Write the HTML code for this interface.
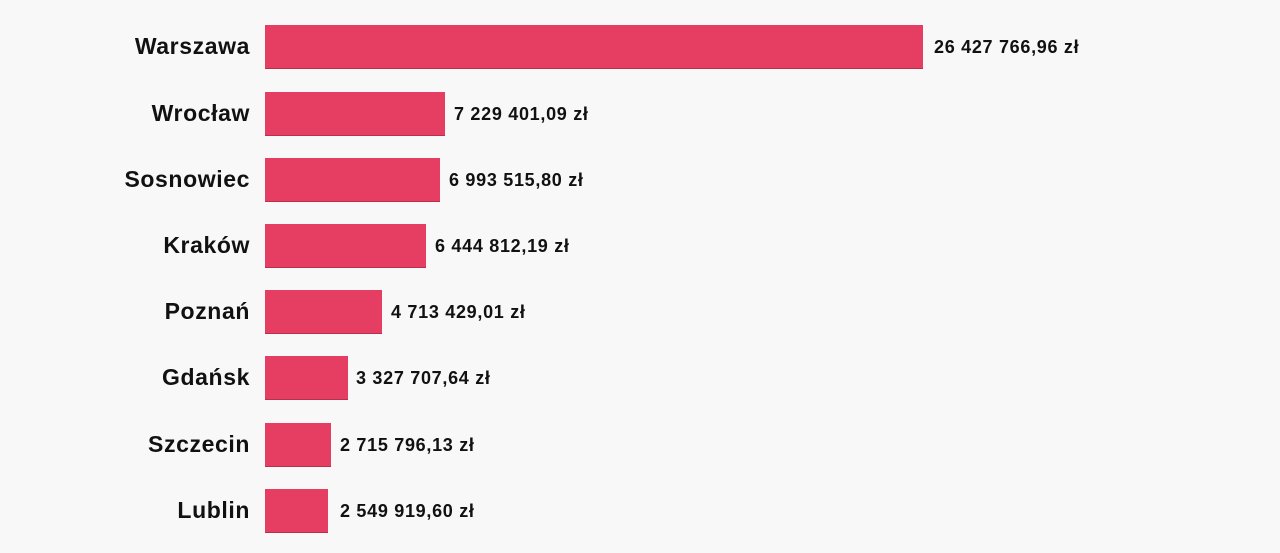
<!DOCTYPE html>
<html><head><meta charset="utf-8"><style>
html,body{margin:0;padding:0;width:1280px;height:553px;background:#f8f8f8;overflow:hidden;font-family:"Liberation Sans","DejaVu Sans",sans-serif;}
.r{position:absolute;left:0;height:43px;width:1280px}
.l{position:absolute;right:1030px;top:0;line-height:43px;font-size:23px;font-weight:bold;color:#111;white-space:nowrap;letter-spacing:0.6px}
.b{position:absolute;left:265px;top:0;height:43px;background:#e63e62;box-shadow:0 1px 0 #b8304e}
.v{position:absolute;top:0;line-height:45px;font-size:18px;font-weight:bold;color:#111;white-space:nowrap;letter-spacing:0.7px}
</style></head><body>
<div class="r" style="top:25px"><div class="l">Warszawa</div><div class="b" style="width:658px"></div><div class="v" style="left:934px">26 427 766,96 zł</div></div>
<div class="r" style="top:92px"><div class="l">Wrocław</div><div class="b" style="width:180px"></div><div class="v" style="left:454px">7 229 401,09 zł</div></div>
<div class="r" style="top:158px"><div class="l">Sosnowiec</div><div class="b" style="width:175px"></div><div class="v" style="left:449px">6 993 515,80 zł</div></div>
<div class="r" style="top:224px"><div class="l">Kraków</div><div class="b" style="width:161px"></div><div class="v" style="left:435px">6 444 812,19 zł</div></div>
<div class="r" style="top:290px"><div class="l">Poznań</div><div class="b" style="width:117px"></div><div class="v" style="left:391px">4 713 429,01 zł</div></div>
<div class="r" style="top:356px"><div class="l">Gdańsk</div><div class="b" style="width:83px"></div><div class="v" style="left:356px">3 327 707,64 zł</div></div>
<div class="r" style="top:423px"><div class="l">Szczecin</div><div class="b" style="width:66px"></div><div class="v" style="left:340px">2 715 796,13 zł</div></div>
<div class="r" style="top:489px"><div class="l">Lublin</div><div class="b" style="width:63px"></div><div class="v" style="left:340px">2 549 919,60 zł</div></div>
</body></html>
